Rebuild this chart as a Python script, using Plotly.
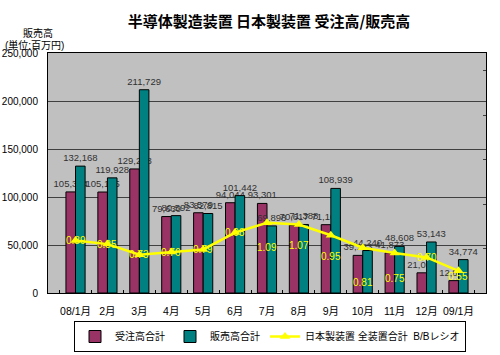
import plotly.graph_objects as go

months = ["08/1月", "2月", "3月", "4月", "5月", "6月", "7月", "8月", "9月", "10月", "11月", "12月", "09/1月"]
orders = [105304, 105185, 129228, 79630, 83579, 94044, 93301, 70617, 71166, 39183, 41873, 21021, 12885]
sales = [132168, 119928, 211729, 80592, 82815, 101442, 69898, 71388, 108939, 44240, 48608, 53143, 34774]
bb_ratio = [0.89, 0.85, 0.73, 0.76, 0.79, 0.98, 1.09, 1.07, 0.95, 0.81, 0.75, 0.70, 0.55]
y_ticks = [0, 50000, 100000, 150000, 200000, 250000]
y_tick_text = ["0", "50,000", "100,000", "150,000", "200,000", "250,000"]

# style: vertical offsets (px) of the ratio labels relative to their points
ratio_label_dy = [0, 0, 0, 0, 0, 0, -25, -21, -21, -35, -25, 0, -6]

FONT = "Liberation Sans, Arial, Noto Sans CJK JP, sans-serif"

# plot-area geometry in page pixels (used to place the unit labels)
L, R, T, B = 48, 486, 53, 293


def to_paper(px_x, px_y):
    return (px_x - L) / (R - L), (B - px_y) / (B - T)


fig = go.Figure()
fig.add_trace(go.Bar(
    x=months, y=orders, name="受注高合計",
    marker=dict(color="#993366", line=dict(color="black", width=1)),
    text=orders, texttemplate="%{y:,}", textposition="outside",
    constraintext="none", cliponaxis=False,
    textfont=dict(size=9.5, color="#303030", family=FONT),
))
fig.add_trace(go.Bar(
    x=months, y=sales, name="販売高合計",
    marker=dict(color="#008080", line=dict(color="black", width=1)),
    text=sales, texttemplate="%{y:,}", textposition="outside",
    constraintext="none", cliponaxis=False,
    textfont=dict(size=9.5, color="#303030", family=FONT),
))
fig.add_trace(go.Scatter(
    x=months, y=bb_ratio, name="日本製装置 全装置合計  B/Bレシオ",
    yaxis="y2", mode="lines+markers",
    line=dict(color="#FFFF00", width=2.5),
    marker=dict(symbol="triangle-up", size=9, color="#FFFF00"),
    cliponaxis=False,
))

annotations = []
for m, r, dy in zip(months, bb_ratio, ratio_label_dy):
    annotations.append(dict(
        x=m, y=r, xref="x", yref="y2", text=f"{r:.2f}", showarrow=False,
        yshift=dy, font=dict(size=10, color="#FFFF00", family=FONT),
    ))
ux1, uy1 = to_paper(21, 33)
ux2, uy2 = to_paper(3, 45)
annotations.append(dict(x=ux1, y=uy1, xref="paper", yref="paper", text="販売高",
                        showarrow=False, xanchor="left", yanchor="middle",
                        font=dict(size=10, color="black", family=FONT)))
annotations.append(dict(x=ux2, y=uy2, xref="paper", yref="paper", text="(単位:百万円)",
                        showarrow=False, xanchor="left", yanchor="middle",
                        font=dict(size=10, color="black", family=FONT)))

fig.update_layout(
    width=500, height=355,
    margin=dict(l=L, r=500 - R, t=T, b=355 - B, autoexpand=False),
    paper_bgcolor="white", plot_bgcolor="#C0C0C0",
    font=dict(family=FONT, size=10, color="black"),
    barmode="group", bargap=0.4, bargroupgap=0,
    title=dict(text="<b>半導体製造装置 日本製装置 受注高/販売高</b>",
               x=0.538, xref="container", xanchor="center",
               y=1 - 22 / 355, yref="container", yanchor="middle",
               font=dict(size=15, family="Noto Sans CJK JP, sans-serif", color="black")),
    xaxis=dict(type="category", showgrid=False, showline=True, linecolor="black", linewidth=1,
               mirror=True, ticks="inside", tickson="boundaries", ticklen=3, tickcolor="black",
               tickangle=0, automargin=False, ticklabelstandoff=8,
               tickfont=dict(size=10.5, color="black", family=FONT)),
    yaxis=dict(range=[0, 250000], tickvals=y_ticks, ticktext=y_tick_text,
               showgrid=True, gridcolor="#404040", gridwidth=1, automargin=False,
               showline=True, linecolor="black", linewidth=1, ticks="",
               ticklabelstandoff=7,
               tickfont=dict(size=10, color="black", family=FONT), zeroline=False),
    yaxis2=dict(overlaying="y", side="right", range=[0.3, 3.0], tick0=0.3, dtick=0.5,
                showgrid=False, showticklabels=False, ticks="inside", ticklen=3,
                tickcolor="#404040", showline=True, linecolor="black", linewidth=1,
                zeroline=False, automargin=False),
    legend=dict(orientation="h", x=0.54, xref="container", xanchor="center",
                y=1 - 321 / 355, yref="container", yanchor="top",
                bordercolor="black", borderwidth=1, bgcolor="white",
                font=dict(size=10, color="black", family=FONT), traceorder="normal"),
    annotations=annotations,
    showlegend=True,
)

fig.write_html("out.html", config={"displayModeBar": False},
               post_script="document.body.style.margin='0';document.body.style.overflow='hidden';")
